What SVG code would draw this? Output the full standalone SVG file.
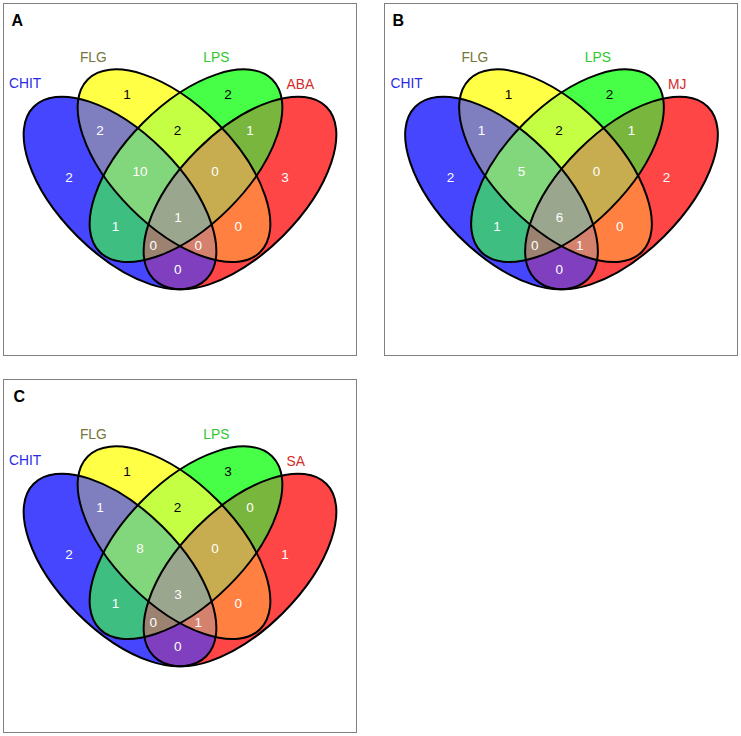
<svg xmlns="http://www.w3.org/2000/svg" xmlns:xlink="http://www.w3.org/1999/xlink" width="741" height="736" viewBox="0 0 741 736">
<style>
.frame{fill:#fff;stroke:#808080;stroke-width:1}
.ol{fill:none;stroke:#000;stroke-width:2}
.lbl{font-family:"Liberation Sans",Arial,sans-serif;font-size:13.8px;dominant-baseline:central}
.num{font-family:"Liberation Sans",Arial,sans-serif;font-size:13.5px;text-anchor:middle;dominant-baseline:central;fill:#fff}
.dk{fill:#000}
.pl{font-family:"Liberation Sans",Arial,sans-serif;font-size:16px;font-weight:bold;fill:#000}
.cB{fill:#2a2ae6}.cF{fill:#76763a}.cL{fill:#2ec82e}.cR{fill:#d42a2a}
</style>
<defs>
<clipPath id="clB"><ellipse cx="120" cy="193" rx="122" ry="60.7" transform="rotate(45 120 193)"/></clipPath>
<clipPath id="clY"><ellipse cx="174" cy="165.7" rx="122" ry="60.7" transform="rotate(45 174 165.7)"/></clipPath>
<clipPath id="clG"><ellipse cx="186" cy="165.7" rx="122" ry="60.7" transform="rotate(-45 186 165.7)"/></clipPath>
<clipPath id="clR"><ellipse cx="240" cy="193" rx="122" ry="60.7" transform="rotate(-45 240 193)"/></clipPath>
<rect id="bg" x="0" y="40" width="360" height="270"/>
<g id="venn">
  <g clip-path="url(#clB)"><use xlink:href="#bg" fill="#4646ff"/></g>
  <g clip-path="url(#clY)"><use xlink:href="#bg" fill="#ffff46"/></g>
  <g clip-path="url(#clG)"><use xlink:href="#bg" fill="#46ff46"/></g>
  <g clip-path="url(#clR)"><use xlink:href="#bg" fill="#ff4646"/></g>
  <g clip-path="url(#clB)"><g clip-path="url(#clY)"><use xlink:href="#bg" fill="#7f7fbf"/></g></g>
  <g clip-path="url(#clY)"><g clip-path="url(#clG)"><use xlink:href="#bg" fill="#c4ff44"/></g></g>
  <g clip-path="url(#clG)"><g clip-path="url(#clR)"><use xlink:href="#bg" fill="#79b63e"/></g></g>
  <g clip-path="url(#clB)"><g clip-path="url(#clG)"><use xlink:href="#bg" fill="#3ebe80"/></g></g>
  <g clip-path="url(#clY)"><g clip-path="url(#clR)"><use xlink:href="#bg" fill="#ff8040"/></g></g>
  <g clip-path="url(#clB)"><g clip-path="url(#clR)"><use xlink:href="#bg" fill="#7f3fbf"/></g></g>
  <g clip-path="url(#clB)"><g clip-path="url(#clY)"><g clip-path="url(#clG)"><use xlink:href="#bg" fill="#82d67c"/></g></g></g>
  <g clip-path="url(#clY)"><g clip-path="url(#clG)"><g clip-path="url(#clR)"><use xlink:href="#bg" fill="#c8ac50"/></g></g></g>
  <g clip-path="url(#clB)"><g clip-path="url(#clG)"><g clip-path="url(#clR)"><use xlink:href="#bg" fill="#9c8270"/></g></g></g>
  <g clip-path="url(#clB)"><g clip-path="url(#clY)"><g clip-path="url(#clR)"><use xlink:href="#bg" fill="#d4826e"/></g></g></g>
  <g clip-path="url(#clB)"><g clip-path="url(#clY)"><g clip-path="url(#clG)"><g clip-path="url(#clR)"><use xlink:href="#bg" fill="#9aa68e"/></g></g></g></g>
  <ellipse class="ol" cx="120" cy="193" rx="122" ry="60.7" transform="rotate(45 120 193)"/>
  <ellipse class="ol" cx="174" cy="165.7" rx="122" ry="60.7" transform="rotate(45 174 165.7)"/>
  <ellipse class="ol" cx="186" cy="165.7" rx="122" ry="60.7" transform="rotate(-45 186 165.7)"/>
  <ellipse class="ol" cx="240" cy="193" rx="122" ry="60.7" transform="rotate(-45 240 193)"/>
</g>
</defs>

<g id="panelA">
  <rect class="frame" x="3.5" y="3.5" width="353" height="352"/>
  <text class="pl" x="11.5" y="25.5">A</text>
  <g transform="translate(0,0)">
    <use xlink:href="#venn"/>
    <text class="lbl cB" x="9" y="83.5">CHIT</text>
    <text class="lbl cF" x="93.3" y="57.5" text-anchor="middle">FLG</text>
    <text class="lbl cL" x="216.3" y="57.5" text-anchor="middle">LPS</text>
    <text class="lbl cR" x="286.5" y="84">ABA</text>
    <text class="num dk" x="127" y="94.3">1</text>
    <text class="num dk" x="228" y="94.3">2</text>
    <text class="num" x="100" y="130.7">2</text>
    <text class="num dk" x="177.5" y="130.7">2</text>
    <text class="num" x="250" y="130.7">1</text>
    <text class="num" x="69" y="177.3">2</text>
    <text class="num" x="140" y="171">10</text>
    <text class="num" x="215" y="171">0</text>
    <text class="num" x="285" y="177.3">3</text>
    <text class="num" x="115.5" y="226">1</text>
    <text class="num" x="178" y="217.3">1</text>
    <text class="num" x="238.3" y="226">0</text>
    <text class="num" x="153.3" y="245">0</text>
    <text class="num" x="198.3" y="245">0</text>
    <text class="num" x="177.7" y="269.3">0</text>
  </g>
</g>

<g id="panelB">
  <rect class="frame" x="384.5" y="3.5" width="353" height="352"/>
  <text class="pl" x="392.5" y="25.5">B</text>
  <g transform="translate(381.5,0)">
    <use xlink:href="#venn"/>
    <text class="lbl cB" x="9" y="83.5">CHIT</text>
    <text class="lbl cF" x="93.3" y="57.5" text-anchor="middle">FLG</text>
    <text class="lbl cL" x="216.3" y="57.5" text-anchor="middle">LPS</text>
    <text class="lbl cR" x="286.5" y="84">MJ</text>
    <text class="num dk" x="127" y="94.3">1</text>
    <text class="num dk" x="228" y="94.3">2</text>
    <text class="num" x="100" y="130.7">1</text>
    <text class="num dk" x="177.5" y="130.7">2</text>
    <text class="num" x="250" y="130.7">1</text>
    <text class="num" x="69" y="177.3">2</text>
    <text class="num" x="140" y="171">5</text>
    <text class="num" x="215" y="171">0</text>
    <text class="num" x="285" y="177.3">2</text>
    <text class="num" x="115.5" y="226">1</text>
    <text class="num" x="178" y="217.3">6</text>
    <text class="num" x="238.3" y="226">0</text>
    <text class="num" x="153.3" y="245">0</text>
    <text class="num" x="198.3" y="245">1</text>
    <text class="num" x="177.7" y="269.3">0</text>
  </g>
</g>

<g id="panelC">
  <rect class="frame" x="3.5" y="379.5" width="353" height="353"/>
  <text class="pl" x="13.5" y="401.5">C</text>
  <g transform="translate(0,377)">
    <use xlink:href="#venn"/>
    <text class="lbl cB" x="9" y="83.5">CHIT</text>
    <text class="lbl cF" x="93.3" y="57.5" text-anchor="middle">FLG</text>
    <text class="lbl cL" x="216.3" y="57.5" text-anchor="middle">LPS</text>
    <text class="lbl cR" x="286.5" y="84">SA</text>
    <text class="num dk" x="127" y="94.3">1</text>
    <text class="num dk" x="228" y="94.3">3</text>
    <text class="num" x="100" y="130.7">1</text>
    <text class="num dk" x="177.5" y="130.7">2</text>
    <text class="num" x="250" y="130.7">0</text>
    <text class="num" x="69" y="177.3">2</text>
    <text class="num" x="140" y="171">8</text>
    <text class="num" x="215" y="171">0</text>
    <text class="num" x="285" y="177.3">1</text>
    <text class="num" x="115.5" y="226">1</text>
    <text class="num" x="178" y="217.3">3</text>
    <text class="num" x="238.3" y="226">0</text>
    <text class="num" x="153.3" y="245">0</text>
    <text class="num" x="198.3" y="245">1</text>
    <text class="num" x="177.7" y="269.3">0</text>
  </g>
</g>
</svg>
